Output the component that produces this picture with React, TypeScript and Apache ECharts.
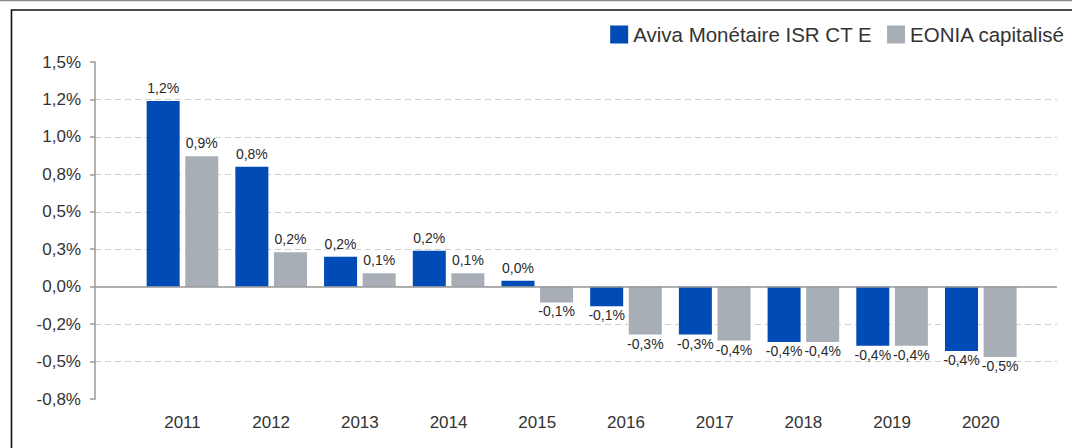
import React, { useEffect, useRef } from "react";
import * as echarts from "echarts";

const years = ["2011", "2012", "2013", "2014", "2015", "2016", "2017", "2018", "2019", "2020"];
const avivaValues = [1.24, 0.8, 0.2, 0.24, 0.04, -0.13, -0.32, -0.37, -0.395, -0.43];
const eoniaValues = [0.87, 0.23, 0.09, 0.09, -0.105, -0.32, -0.36, -0.37, -0.395, -0.47];
const yTickLabels = ["-0,8%", "-0,5%", "-0,2%", "0,0%", "0,3%", "0,5%", "0,8%", "1,0%", "1,2%", "1,5%"];
const seriesNames = ["Aviva Monétaire ISR CT E", "EONIA capitalisé"];

const FONT = "'Liberation Sans', Arial, sans-serif";
const BLUE = "#004BB5";
const GREY = "#A7AEB5";

const fmt = (v: number) => v.toFixed(1).replace(".", ",") + "%";

const toData = (vals: number[]) =>
  vals.map((v, i) => ({
    value: [i, v],
    label: { position: v >= 0 ? "top" : "bottom", distance: v >= 0 ? 6 : 2 },
  }));

export default function App() {
  const ref = useRef<HTMLDivElement>(null);
  useEffect(() => {
    if (!ref.current) return;
    const chart = echarts.init(ref.current, undefined, { renderer: "svg" });
    const labelCommon = {
      show: true,
      fontSize: 14,
      fontFamily: FONT,
      color: "#2a2a2a",
      formatter: (p: any) => fmt(p.value[1]),
    };
    chart.setOption({
      animation: false,
      backgroundColor: "#fff",
      textStyle: { fontFamily: FONT },
      graphic: [
        { type: "line", shape: { x1: 0, y1: 0.5, x2: 1072, y2: 0.5 }, style: { stroke: "#8a8a8a", lineWidth: 1.5 } },
        { type: "rect", shape: { x: 11.5, y: 10, width: 1100, height: 500 }, style: { fill: "none", stroke: "#111", lineWidth: 1.6 } },
      ],
      legend: {
        right: 2,
        top: 19,
        itemWidth: 18,
        itemHeight: 18,
        itemGap: 15,
        icon: "rect",
        textStyle: { fontSize: 20.5, fontFamily: FONT, color: "#333", padding: [0, 0, 0, 0] },
        data: seriesNames,
      },
      grid: { left: 95, right: 15, top: 62, bottom: 49, containLabel: false },
      xAxis: {
        type: "value",
        min: -0.986,
        max: 9.859,
        axisLine: { show: false },
        axisTick: { show: false },
        splitLine: { show: false },
        axisLabel: {
          customValues: years.map((_, i) => i),
          formatter: (v: number) => years[Math.round(v)] ?? "",
          fontSize: 17,
          fontFamily: FONT,
          color: "#333",
          margin: 15,
        },
      },
      yAxis: {
        type: "value",
        min: -0.75,
        max: 1.5,
        interval: 0.25,
        axisLine: { show: true, onZero: false, lineStyle: { color: "#999", width: 1.5 } },
        axisTick: { show: true, length: 5, lineStyle: { color: "#999", width: 1.5 } },
        splitLine: {
          show: true,
          showMinLine: false,
          showMaxLine: false,
          lineStyle: { color: "#cfcfcf", type: [6, 4], width: 1 },
        },
        axisLabel: {
          fontSize: 17,
          fontFamily: FONT,
          color: "#333",
          margin: 14,
          formatter: (v: number) => yTickLabels[Math.round((v + 0.75) / 0.25)] ?? "",
        },
      },
      series: [
        {
          name: seriesNames[0],
          type: "bar",
          barWidth: 33,
          barGap: "17%",
          itemStyle: { color: BLUE },
          label: labelCommon,
          data: toData(avivaValues),
          markLine: {
            silent: true,
            symbol: "none",
            label: { show: false },
            lineStyle: { color: "#999", type: "solid", width: 1.5 },
            data: [{ yAxis: 0 }],
          },
        },
        {
          name: seriesNames[1],
          type: "bar",
          barWidth: 33,
          barGap: "17%",
          itemStyle: { color: GREY },
          label: labelCommon,
          data: toData(eoniaValues),
        },
      ],
    });
    return () => chart.dispose();
  }, []);
  return (
    <div
      ref={ref}
      style={{ position: "fixed", left: 0, top: 0, width: 1072, height: 448 }}
    />
  );
}
